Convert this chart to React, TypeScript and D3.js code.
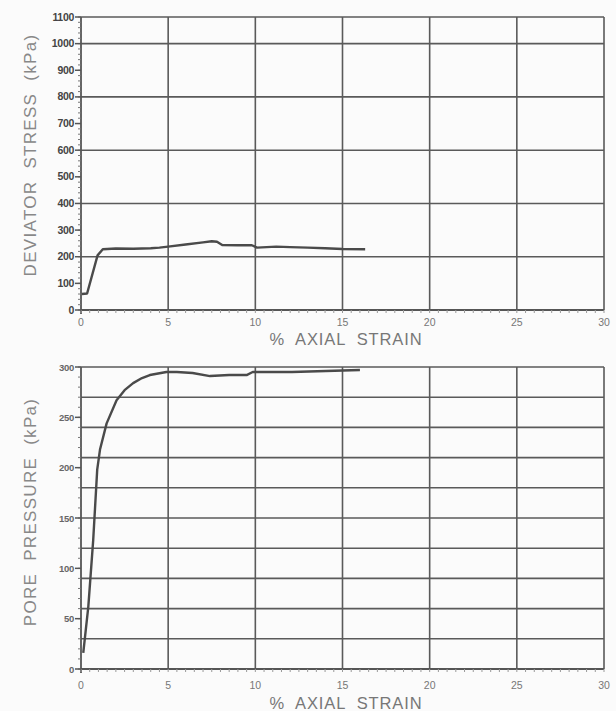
import React, { useEffect, useRef } from 'react';
import * as d3 from 'd3';

// strain (%) ticks shared by both panels
const strainTicks = [0, 5, 10, 15, 20, 25, 30];

// deviator stress panel
const stressTicks = [0, 100, 200, 300, 400, 500, 600, 700, 800, 900, 1000, 1100];
const stressGrid = [200, 400, 600, 800, 1000];
const stressStrain = [0.05, 0.35, 0.95, 1.25, 2, 3, 4, 4.5, 5, 6, 7, 7.5, 7.8, 8.1, 9, 9.8, 10.1, 11.2, 12, 13, 14, 15, 16.3];
const stressValues = [60, 62, 205, 228, 231, 230, 232, 234, 238, 246, 254, 258, 256, 244, 243, 243, 234, 238, 236, 234, 232, 229, 228];

// pore pressure panel
const poreTicks = [0, 50, 100, 150, 200, 250, 300];
const poreGrid = [30, 60, 90, 120, 150, 180, 210, 240, 270];
const poreStrain = [0.13, 0.42, 0.7, 0.93, 1.09, 1.47, 2.04, 2.5, 2.99, 3.5, 3.95, 4.9, 5.5, 6.4, 7.4, 8.5, 9.5, 9.85, 11, 12.1, 14.05, 16];
const poreValues = [16, 62, 128, 198, 218, 244, 267, 277, 284, 289, 292, 295, 295, 294, 291, 292, 292, 295, 295, 295, 296, 297];

const W = 616;
const H = 711;
const FONT = 'Liberation Sans, Arial, sans-serif';

const App = () => {
  const svgRef = useRef(null);

  useEffect(() => {
    const svg = d3.select(svgRef.current);
    svg.selectAll('*').remove();

    svg.append('rect').attr('width', W).attr('height', H).attr('fill', '#fbfbfb');

    const x = d3.scaleLinear().domain([0, 30]).range([81, 604]);

    const drawPanel = (opts) => {
      const { y, yMax, ticks, grid, minorStep, xs, ys, title, titleY, xLabelY, xTitleY, labelSize, labelColor } = opts;
      const g = svg.append('g');
      const [y0, y1] = y.range();

      // horizontal grid
      g.selectAll('line.hg').data([...grid, yMax]).join('line')
        .attr('x1', x(0)).attr('x2', x(30))
        .attr('y1', d => y(d)).attr('y2', d => y(d))
        .attr('stroke', '#5a5a5a').attr('stroke-width', 1.6);

      // vertical grid
      g.selectAll('line.vg').data(strainTicks.slice(1)).join('line')
        .attr('x1', d => x(d)).attr('x2', d => x(d))
        .attr('y1', y0).attr('y2', y1)
        .attr('stroke', '#5a5a5a').attr('stroke-width', 1.6);

      // axes
      g.append('line').attr('x1', x(0)).attr('x2', x(30)).attr('y1', y0).attr('y2', y0)
        .attr('stroke', '#555').attr('stroke-width', 1.8);
      g.append('line').attr('x1', x(0)).attr('x2', x(0)).attr('y1', y0 + 4).attr('y2', y1)
        .attr('stroke', '#555').attr('stroke-width', 1.8);

      // minor ticks
      const xMinor = d3.range(0, 30.01, 0.5);
      g.selectAll('line.xm').data(xMinor).join('line')
        .attr('x1', d => x(d)).attr('x2', d => x(d))
        .attr('y1', y0).attr('y2', y0 + 3)
        .attr('stroke', '#999').attr('stroke-width', 1);
      const yMinor = d3.range(0, yMax + 0.01, minorStep);
      g.selectAll('line.ym').data(yMinor).join('line')
        .attr('x1', x(0) - 3).attr('x2', x(0))
        .attr('y1', d => y(d)).attr('y2', d => y(d))
        .attr('stroke', '#777').attr('stroke-width', 1);

      // major y ticks + labels
      g.selectAll('line.yt').data(ticks).join('line')
        .attr('x1', x(0) - 6).attr('x2', x(0))
        .attr('y1', d => y(d)).attr('y2', d => y(d))
        .attr('stroke', '#555').attr('stroke-width', 1.5);
      g.selectAll('text.yl').data(ticks).join('text')
        .attr('x', x(0) - 7).attr('y', d => y(d) + 3.5)
        .attr('text-anchor', 'end')
        .attr('font-family', FONT)
        .attr('font-size', labelSize).attr('font-weight', 'bold')
        .attr('letter-spacing', -0.3)
        .attr('fill', labelColor)
        .text(d => d);

      // x tick labels
      g.selectAll('text.xl').data(strainTicks).join('text')
        .attr('x', d => x(d)).attr('y', xLabelY)
        .attr('text-anchor', 'middle')
        .attr('font-family', FONT)
        .attr('font-size', 10.5)
        .attr('fill', '#777')
        .text(d => d);

      // x title
      g.append('text')
        .attr('x', 346).attr('y', xTitleY)
        .attr('text-anchor', 'middle')
        .attr('font-family', FONT)
        .attr('font-size', 16.5).attr('letter-spacing', 0.9)
        .attr('fill', '#777')
        .attr('xml:space', 'preserve')
        .text('%  AXIAL  STRAIN');

      // y title
      g.append('text')
        .attr('transform', `translate(36,${titleY}) rotate(-90)`)
        .attr('text-anchor', 'middle')
        .attr('font-family', FONT)
        .attr('font-size', 17).attr('letter-spacing', 1.3)
        .attr('fill', '#888')
        .attr('xml:space', 'preserve')
        .text(title);

      // data line
      const pts = xs.map((s, i) => [s, ys[i]]);
      const line = d3.line().x(d => x(d[0])).y(d => y(d[1]));
      g.append('path')
        .datum(pts)
        .attr('fill', 'none')
        .attr('stroke', '#4a4a4a')
        .attr('stroke-width', 2.4)
        .attr('stroke-linejoin', 'round')
        .attr('d', line);
    };

    drawPanel({
      y: d3.scaleLinear().domain([0, 1100]).range([310, 17]),
      yMax: 1100,
      ticks: stressTicks,
      grid: stressGrid,
      minorStep: 20,
      xs: stressStrain,
      ys: stressValues,
      title: 'DEVIATOR  STRESS  (kPa)',
      titleY: 155,
      xLabelY: 326,
      xTitleY: 345,
      labelSize: 10.5,
      labelColor: '#444',
    });

    drawPanel({
      y: d3.scaleLinear().domain([0, 300]).range([669, 367]),
      yMax: 300,
      ticks: poreTicks,
      grid: poreGrid,
      minorStep: 10,
      xs: poreStrain,
      ys: poreValues,
      title: 'PORE  PRESSURE  (kPa)',
      titleY: 512,
      xLabelY: 689,
      xTitleY: 709,
      labelSize: 9.5,
      labelColor: '#666',
    });
  }, []);

  return (
    <svg ref={svgRef} width={W} height={H} style={{ position: 'absolute', left: 0, top: 0 }}></svg>
  );
};

export default App;
